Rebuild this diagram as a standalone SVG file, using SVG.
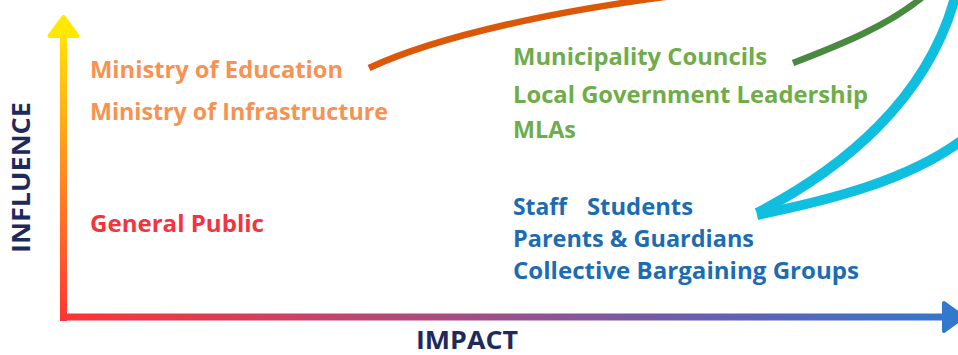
<svg xmlns="http://www.w3.org/2000/svg" width="958" height="355" viewBox="0 0 958 355">
  <style>
    .lbl { font-family: "Open Sans", "Noto Sans", "Liberation Sans", sans-serif; font-weight: 700; font-size: 22.5px; }
    .axis { font-family: "Open Sans", "Noto Sans", "Liberation Sans", sans-serif; font-weight: 700; font-size: 25px; fill: #1F2A5C; }
    .org { fill: #F99150; }
    .red { fill: #F5333F; }
    .grn { fill: #6FAC4A; }
    .blu { fill: #1C6CB4; }
    .curve { fill: none; stroke-linecap: butt; }
  </style>
  <defs>
    <linearGradient id="gV" gradientUnits="userSpaceOnUse" x1="0" y1="20" x2="0" y2="321">
      <stop offset="0" stop-color="#FFEC00"/>
      <stop offset="0.45" stop-color="#FF961F"/>
      <stop offset="1" stop-color="#FF3434"/>
    </linearGradient>
    <linearGradient id="gH" gradientUnits="userSpaceOnUse" x1="60" y1="0" x2="958" y2="0">
      <stop offset="0" stop-color="#FF3434"/>
      <stop offset="0.45" stop-color="#A44D85"/>
      <stop offset="0.72" stop-color="#675FB0"/>
      <stop offset="1" stop-color="#3278CC"/>
    </linearGradient>
  </defs>
  <rect width="958" height="355" fill="#FFFFFF"/>

  <g id="axes">
    <rect x="60" y="30" width="7" height="291" fill="url(#gV)"/>
    <polygon points="63.5,17 49.5,36 77.5,36" fill="#FFE800" stroke="#FFE800" stroke-width="4" stroke-linejoin="round"/>
    <rect x="60" y="313.5" width="886" height="7" fill="url(#gH)"/>
    <polygon points="944,303 963,317 944,331" fill="#3278CC" stroke="#3278CC" stroke-width="4" stroke-linejoin="round"/>
  </g>

  <g id="axis-labels">
    <text id="influence" class="axis" transform="translate(30,253) rotate(-90)" x="0" y="0" textLength="151" lengthAdjust="spacingAndGlyphs">INFLUENCE</text>
    <text id="impact" class="axis" x="416" y="349" textLength="102" lengthAdjust="spacingAndGlyphs">IMPACT</text>
  </g>

  <g id="connectors">
    <path class="curve" d="M369,68 C440,35 560,10 680,-5" stroke="#DA5808" stroke-width="6.5"/>
    <path class="curve" d="M793,63 C840,45 890,25 925,-5" stroke="#4A8A40" stroke-width="6.5"/>
    <path class="curve" d="M757,213 C840,170 930,100 957,-10" stroke="#10BFE0" stroke-width="10"/>
    <path class="curve" d="M757,215 C830,200 910,180 965,138" stroke="#10BFE0" stroke-width="10"/>
  </g>

  <g id="ministry-education"><text class="lbl org" x="90" y="78" textLength="253" lengthAdjust="spacingAndGlyphs">Ministry of Education</text></g>
  <g id="ministry-infrastructure"><text class="lbl org" x="90" y="120" textLength="298" lengthAdjust="spacingAndGlyphs">Ministry of Infrastructure</text></g>
  <g id="general-public"><text class="lbl red" x="90" y="232" textLength="174" lengthAdjust="spacingAndGlyphs">General Public</text></g>

  <g id="municipality-councils"><text class="lbl grn" x="513" y="65" textLength="254" lengthAdjust="spacingAndGlyphs">Municipality Councils</text></g>
  <g id="local-government"><text class="lbl grn" x="513" y="103" textLength="355" lengthAdjust="spacingAndGlyphs">Local Government Leadership</text></g>
  <g id="mlas"><text class="lbl grn" x="513" y="138" textLength="63" lengthAdjust="spacingAndGlyphs">MLAs</text></g>

  <g id="staff"><text class="lbl blu" x="513" y="215" textLength="54" lengthAdjust="spacingAndGlyphs">Staff</text></g>
  <g id="students"><text class="lbl blu" x="587" y="215" textLength="106" lengthAdjust="spacingAndGlyphs">Students</text></g>
  <g id="parents-guardians"><text class="lbl blu" x="513" y="247" textLength="241" lengthAdjust="spacingAndGlyphs">Parents &amp; Guardians</text></g>
  <g id="collective-bargaining"><text class="lbl blu" x="513" y="279" textLength="346" lengthAdjust="spacingAndGlyphs">Collective Bargaining Groups</text></g>
</svg>
